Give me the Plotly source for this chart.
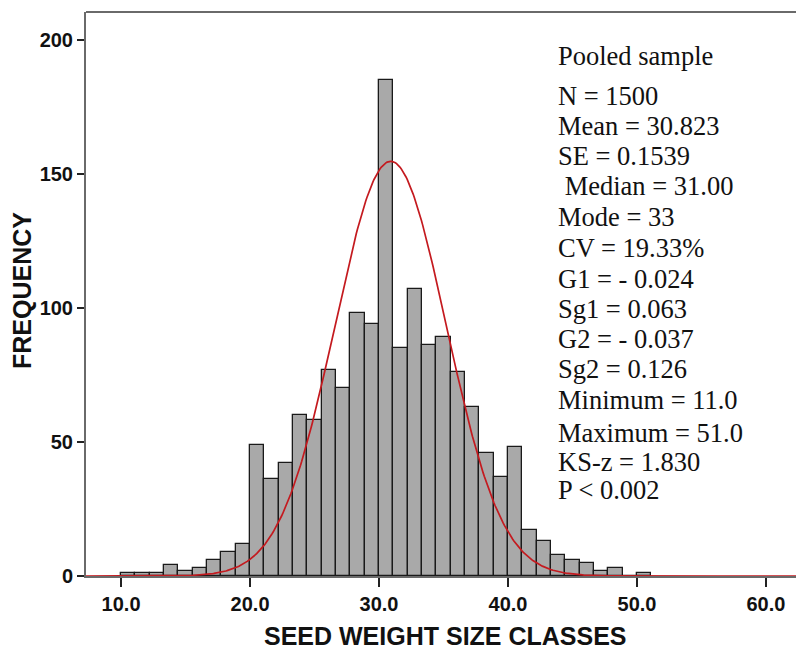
import numpy as np
import plotly.graph_objects as go

# ---- data ----
bin_start = 10.0
bin_width = 10.0 / 9.0
counts = [1, 1, 1, 4, 2, 3, 6, 9, 12,
          49, 36, 42, 60, 58, 77, 70, 98, 94,
          185, 85, 107, 86, 89, 76, 63, 46, 37,
          48, 17, 13, 8, 6, 5, 2, 3, 0, 1]
n_total = 1500
fit_mean = 30.9
fit_sd = 4.3

x_ticks = [10, 20, 30, 40, 50, 60]
x_tick_labels = ["10.0", "20.0", "30.0", "40.0", "50.0", "60.0"]
y_ticks = [0, 50, 100, 150, 200]
x_title = "SEED WEIGHT SIZE CLASSES"
y_title = "FREQUENCY"

stats_title = "Pooled sample"
stats_lines = [
    "N = 1500",
    "Mean = 30.823",
    "SE = 0.1539",
    "\u00a0Median = 31.00",
    "Mode = 33",
    "CV = 19.33%",
    "G1 = - 0.024",
    "Sg1 = 0.063",
    "G2 = - 0.037",
    "Sg2 = 0.126",
    "Minimum = 11.0",
    "Maximum = 51.0",
    "KS-z = 1.830",
    "P < 0.002",
]

x_range = [7.28, 62.33]
y_range = [0, 210.3]

centers = [bin_start + bin_width * (i + 0.5) for i in range(len(counts))]

xc = np.linspace(x_range[0], x_range[1], 600)
yc = n_total * bin_width / (fit_sd * np.sqrt(2 * np.pi)) * np.exp(-0.5 * ((xc - fit_mean) / fit_sd) ** 2)

W, H = 796, 649
ML, MR, MT, MB = 86, 0, 12, 73
PW, PH = W - ML - MR, H - MT - MB

fig = go.Figure()
fig.add_trace(go.Bar(
    x=centers, y=counts, width=bin_width,
    marker=dict(color="#a9a9a9", line=dict(color="#1a1a1a", width=1.3)),
    hoverinfo="skip",
))
fig.add_trace(go.Scatter(
    x=xc, y=yc, mode="lines",
    line=dict(color="#c41a1f", width=1.7),
    hoverinfo="skip",
))

axis_font = dict(family="Liberation Sans, Arial, sans-serif", size=20, color="#111111")
title_font = dict(family="Liberation Sans, Arial, sans-serif", size=25, color="#111111")

fig.update_layout(
    width=W, height=H,
    margin=dict(l=ML, r=MR, t=MT, b=MB, autoexpand=False),
    paper_bgcolor="white", plot_bgcolor="white",
    showlegend=False,
    bargap=0,
    xaxis=dict(
        range=x_range, tickvals=x_ticks, ticktext=[f"<b>{t}</b>" for t in x_tick_labels],
        ticks="outside", ticklen=9, tickwidth=1.5, tickcolor="#222222",
        showline=True, linecolor="#6a6a6a", linewidth=2, mirror=False,
        showgrid=False, zeroline=False, tickfont=axis_font, automargin=False,
    ),
    yaxis=dict(
        range=y_range, tickvals=y_ticks, ticktext=[f"<b>{t}</b>" for t in y_ticks],
        ticks="outside", ticklen=7, tickwidth=1.5, tickcolor="#222222",
        showline=True, linecolor="#6a6a6a", linewidth=2,
        showgrid=False, zeroline=False, tickfont=axis_font, automargin=False,
    ),
)

# top frame line
fig.add_shape(type="line", xref="paper", yref="paper", x0=0, x1=1, y0=1, y1=1,
              line=dict(color="#6a6a6a", width=2))

def xpix(px):
    return (px - ML) / PW

def ypix(py):
    return 1 - (py - MT) / PH

# axis titles
fig.add_annotation(text=f"<b>{x_title}</b>", xref="paper", yref="paper",
                   x=xpix(445), y=ypix(636), xanchor="center", yanchor="middle",
                   showarrow=False, font=title_font)
fig.add_annotation(text=f"<b>{y_title}</b>", xref="paper", yref="paper",
                   x=xpix(22), y=ypix(291), xanchor="center", yanchor="middle",
                   textangle=-90, showarrow=False, font=title_font)

serif = dict(family="Liberation Serif, Times New Roman, serif", size=26.5, color="#111111")
fig.add_annotation(text=stats_title, xref="paper", yref="paper",
                   x=xpix(556), y=ypix(56), xanchor="left", yanchor="middle",
                   showarrow=False, font=serif)
line_y = [96, 126, 156, 186, 217, 248, 279, 309, 339, 369, 400, 433, 462, 490]
for txt, py in zip(stats_lines, line_y):
    fig.add_annotation(text=txt, xref="paper", yref="paper",
                       x=xpix(556), y=ypix(py), xanchor="left", yanchor="middle",
                       showarrow=False, font=serif)

fig.write_html(
    "out.html",
    config={"displayModeBar": False},
    post_script="document.body.style.margin='0';document.body.style.overflow='hidden';",
)
